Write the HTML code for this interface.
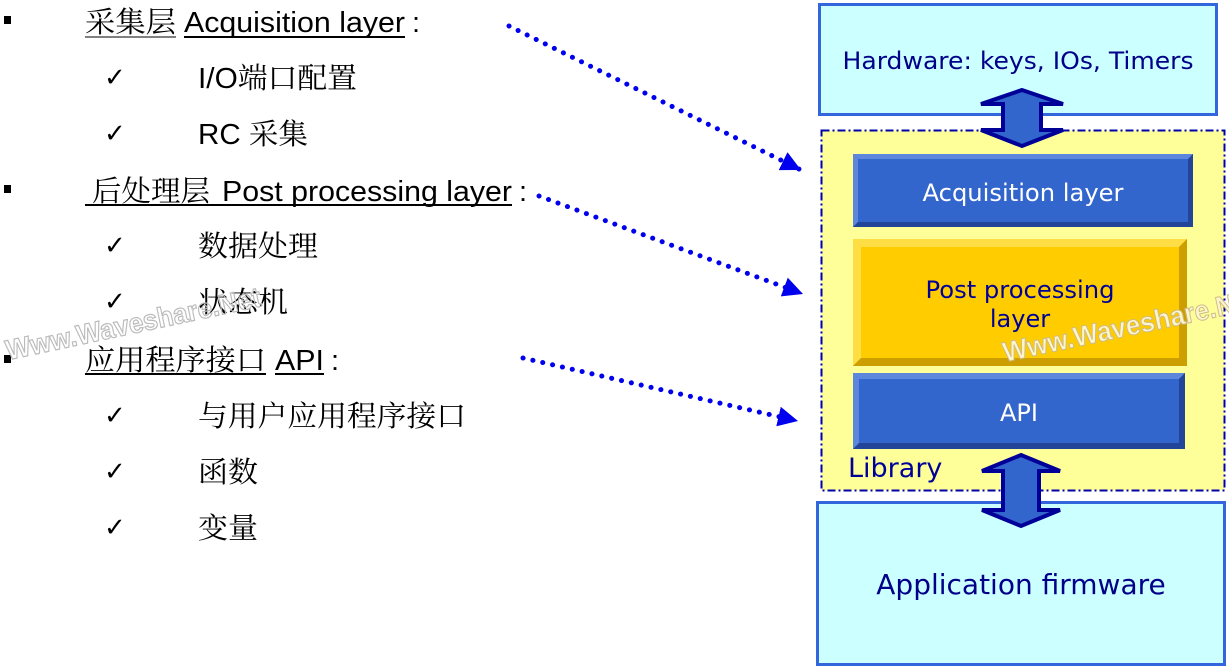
<!DOCTYPE html>
<html><head><meta charset="utf-8"><style>
html,body{margin:0;padding:0;background:#fff;width:1229px;height:667px;overflow:hidden}
svg text{font-family:"Liberation Sans","Noto Serif CJK SC",sans-serif}
.cjk{font-family:"Noto Serif CJK SC","WenQuanYi Zen Hei",serif}
.v{font-family:"DejaVu Sans",sans-serif}
</style></head><body>
<svg width="1229" height="667" viewBox="0 0 1229 667" xmlns="http://www.w3.org/2000/svg">
<defs>
<marker id="ah" markerWidth="20" markerHeight="20" refX="16" refY="8" orient="auto" markerUnits="userSpaceOnUse" viewBox="0 0 16 16">
<path d="M0,0 L16,8 L0,16 z" fill="#0000ee"/></marker>
</defs>
<g font-size="29" fill="#000">
<rect x="4" y="16" width="7" height="8"/>
<rect x="4" y="185" width="7" height="8"/>
<rect x="4" y="355" width="7" height="8"/>
<text x="85" y="32" class="cjk" textLength="91" lengthAdjust="spacingAndGlyphs">采集层</text>
<text x="184" y="32" textLength="221" lengthAdjust="spacingAndGlyphs">Acquisition layer</text>
<text x="412" y="32">:</text>
<line x1="85" y1="37" x2="176" y2="37" stroke="#000" stroke-width="1"/>
<line x1="184" y1="37" x2="405" y2="37" stroke="#000" stroke-width="2"/>
<text x="92" y="201" class="cjk" textLength="118" lengthAdjust="spacingAndGlyphs">后处理层</text>
<text x="222" y="201" textLength="290" lengthAdjust="spacingAndGlyphs">Post processing layer</text>
<text x="519" y="201">:</text>
<line x1="85" y1="205" x2="512" y2="205" stroke="#000" stroke-width="2"/>
<text x="85" y="370" class="cjk" textLength="181" lengthAdjust="spacingAndGlyphs">应用程序接口</text>
<text x="275" y="370" textLength="49" lengthAdjust="spacingAndGlyphs">API</text>
<text x="331" y="370">:</text>
<line x1="85" y1="374" x2="266" y2="374" stroke="#000" stroke-width="2"/>
<line x1="275" y1="374" x2="324" y2="374" stroke="#000" stroke-width="2"/>
<g font-size="26">
<text x="104" y="86" class="v">✓</text><text x="104" y="142" class="v">✓</text>
<text x="104" y="254" class="v">✓</text><text x="104" y="310" class="v">✓</text>
<text x="104" y="424" class="v">✓</text><text x="104" y="480" class="v">✓</text>
<text x="104" y="536" class="v">✓</text>
</g>
<text x="198" y="88" textLength="159" lengthAdjust="spacingAndGlyphs">I/O<tspan class="cjk">端口配置</tspan></text>
<text x="198" y="144" textLength="110" lengthAdjust="spacingAndGlyphs">RC <tspan class="cjk">采集</tspan></text>
<text x="198" y="256" class="cjk" textLength="120" lengthAdjust="spacingAndGlyphs">数据处理</text>
<text x="198" y="312" class="cjk" textLength="90" lengthAdjust="spacingAndGlyphs">状态机</text>
<text x="198" y="426" class="cjk" textLength="268" lengthAdjust="spacingAndGlyphs">与用户应用程序接口</text>
<text x="198" y="482" class="cjk" textLength="60" lengthAdjust="spacingAndGlyphs">函数</text>
<text x="198" y="538" class="cjk" textLength="60" lengthAdjust="spacingAndGlyphs">变量</text>
</g>
<g stroke="#0000ee" stroke-width="5" stroke-dasharray="0.1 10" stroke-linecap="round" fill="none">
<path d="M509,26 L801,170" marker-end="url(#ah)"/>
<path d="M539,196 L803,294" marker-end="url(#ah)"/>
<path d="M523,358 L798,421" marker-end="url(#ah)"/>
</g>
<rect x="819.5" y="4.5" width="397" height="110" fill="#ccffff" stroke="#3366dd" stroke-width="3"/>
<text x="1018" y="69" text-anchor="middle" font-size="24" fill="#000088" class="v" textLength="351" lengthAdjust="spacingAndGlyphs">Hardware: keys, IOs, Timers</text>
<rect x="821.5" y="130.5" width="403" height="360" fill="#ffff99" stroke="#0000aa" stroke-width="2" stroke-dasharray="8 3 2 3"/>
<rect x="817.5" y="502.5" width="407" height="162" fill="#ccffff" stroke="#3366dd" stroke-width="3"/>
<text x="1021" y="594" text-anchor="middle" font-size="28" fill="#000088" class="v">Application firmware</text>
<rect x="853" y="154" width="340" height="73" fill="#3366cc"/>
<path d="M853,154 h340 l-5,5 h-330 z" fill="#5d87dd"/>
<path d="M853,154 v73 l5,-5 v-63 z" fill="#5d87dd"/>
<path d="M853,227 h340 v-73 l-5,5 v63 h-330 z" fill="#224499"/>
<text x="1023" y="201" text-anchor="middle" font-size="24" fill="#fff" class="v" textLength="201" lengthAdjust="spacingAndGlyphs">Acquisition layer</text>
<rect x="853" y="239" width="334" height="127" fill="#ffcc00"/>
<path d="M853,239 h334 l-8,8 h-318 z" fill="#ffdd44"/>
<path d="M853,239 v127 l8,-8 v-111 z" fill="#ffdd44"/>
<path d="M853,366 h334 v-127 l-8,8 v111 h-318 z" fill="#cc9e00"/>
<text x="1020" y="298" text-anchor="middle" font-size="24" fill="#000099" class="v" textLength="189" lengthAdjust="spacingAndGlyphs">Post processing</text>
<text x="1020" y="327" text-anchor="middle" font-size="24" fill="#000099" class="v">layer</text>
<rect x="853" y="373" width="332" height="76" fill="#3366cc"/>
<path d="M853,373 h332 l-6,6 h-320 z" fill="#5d87dd"/>
<path d="M853,373 v76 l6,-6 v-64 z" fill="#5d87dd"/>
<path d="M853,449 h332 v-76 l-6,6 v64 h-320 z" fill="#224499"/>
<text x="1019" y="421" text-anchor="middle" font-size="24" fill="#fff" class="v">API</text>
<text x="848" y="477" font-size="27" fill="#000099" class="v">Library</text>
<path d="M1022,90 L1063,104 L1041,104 L1041,130 L1063,130 L1022,146 L981,130 L1003,130 L1003,104 L981,104 Z" fill="#3366cc" stroke="#000099" stroke-width="4"/>
<path d="M1021,455 L1060,471 L1039,471 L1039,510 L1060,510 L1021,526 L982,510 L1003,510 L1003,471 L982,471 Z" fill="#3366cc" stroke="#000099" stroke-width="4"/>
<text x="8" y="360" font-size="28" font-weight="bold" fill="none" stroke="#bbbbbb" stroke-width="1.2" transform="rotate(-12 8 360)" textLength="260" lengthAdjust="spacingAndGlyphs">Www.Waveshare.Net</text>
<text x="1005" y="362" font-size="28" font-weight="bold" fill="#fff5cc" stroke="#ccbb88" stroke-width="1" transform="rotate(-12 1005 362)" textLength="260" lengthAdjust="spacingAndGlyphs">Www.Waveshare.Net</text>
</svg>
</body></html>
